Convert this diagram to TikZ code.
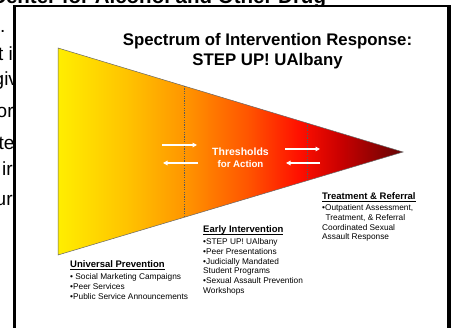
\documentclass[tikz,border=0pt]{standalone}
\usepackage{fontspec}
\setmainfont{Liberation Sans}
\usetikzlibrary{arrows.meta, calc}
\definecolor{specA}{RGB}{255,238,0}
\definecolor{specB}{RGB}{255,195,0}
\definecolor{specC}{RGB}{255,150,0}
\definecolor{specD}{RGB}{255,85,0}
\definecolor{specE}{RGB}{255,15,0}
\definecolor{specF}{RGB}{200,0,0}
\definecolor{specG}{RGB}{100,5,5}
\pgfdeclarehorizontalshading{spectrum}{100bp}{color(0bp)=(specA); color(25bp)=(specA);
  color(35bp)=(specB); color(43.25bp)=(specC); color(52.5bp)=(specD); color(60bp)=(specE);
  color(66bp)=(specF); color(75bp)=(specG); color(100bp)=(specG)}
\newcommand{\hdr}[1]{\underline{\smash{#1}}}

\begin{document}
\begin{tikzpicture}[x=1pt, y=-1pt,
    head/.style={anchor=base west, inner sep=0pt, font=\fontsize{9.5}{11}\selectfont\bfseries},
    items/.style={anchor=north west, inner sep=0pt, align=left, font=\fontsize{8.3}{9.9}\selectfont},
    frag/.style={anchor=base west, inner sep=0pt, font=\fontsize{19}{22}\selectfont},
    flow/.style={white, line width=1.3pt, -{Triangle[length=4.5pt, width=4.5pt]}},
    divider/.style={black!65, line width=0.4pt, dash pattern=on 1.2pt off 1.2pt}]
    \useasboundingbox (0,0) rectangle (451,328);
    \clip (0,0) rectangle (451,328);
    % slide underneath
    \node[anchor=base west, inner sep=0pt, font=\fontsize{20.5}{24}\selectfont\bfseries] (slidehead) at (-9,3.5) {Center for Alcohol and Other Drug};
    \node[frag] (frag1) at (0,33) {.};
    \node[frag] (frag2) at (-2,61) {t i};
    \node[frag] (frag3) at (-6.5,86) {giv};
    \node[frag] (frag4) at (-3.5,118) {or};
    \node[frag] (frag5) at (-1.5,150) {te};
    \node[frag] (frag6) at (2,176) {ir};
    \node[frag] (frag7) at (-4.5,206) {ur};
    % frame
    \draw[line width=2.6pt, fill=white] (14.2,6) rectangle (448.5,340);
    \fill[black] (447.5,5) rectangle (451,340);
    % the spectrum
    \shadedraw[shading=spectrum, draw=black!60, line width=0.5pt] (58,48) coordinate (topleft) -- (403,152) coordinate (tip) -- (58,255) coordinate (botleft) -- cycle;
    \draw[divider] ($(topleft)!0.365!(tip)$) -- ($(botleft)!0.365!(tip)$);
    \draw[divider] ($(topleft)!0.722!(tip)$) -- ($(botleft)!0.722!(tip)$);
    \node[anchor=north, inner sep=0pt, align=center, font=\fontsize{16.8}{20}\selectfont\bfseries] (title) at (267.5,32.8) {Spectrum of Intervention Response:\\STEP UP! UAlbany};
    \node[text=white, inner sep=0pt, align=center, font=\bfseries] (thresh) at (240.5,157.4) {{\fontsize{10.5}{10.7}\selectfont Thresholds}\\{\fontsize{9.7}{10.7}\selectfont for Action}};
    \draw[flow] (162,145) -- (197,145);
    \draw[flow] (198,163) -- (163,163);
    \draw[flow] (285,149) -- (320,149);
    \draw[flow] (320,163) -- (286,163);
    % the three stages
    \node[head] (univ) at (70,267.5) {\hdr{Universal Prevention}};
    \node[items] (univlist) at (70,273) {\textbullet\ Social Marketing Campaigns\\\textbullet Peer Services\\\textbullet Public Service Announcements};
    \node[head] (early) at (203,232.4) {\hdr{Early Intervention}};
    \node[items] (earlylist) at (203,238) {\textbullet STEP UP! UAlbany\\\textbullet Peer Presentations\\\textbullet Judicially Mandated\\Student Programs\\\textbullet Sexual Assault Prevention\\Workshops};
    \node[head] (treat) at (322,199.6) {\hdr{Treatment \& Referral}};
    \node[items] (treatlist) at (322,204) {\textbullet Outpatient Assessment,\\\hspace*{3.5pt}Treatment, \& Referral\\Coordinated Sexual\\Assault Response};
\end{tikzpicture}
\end{document}
